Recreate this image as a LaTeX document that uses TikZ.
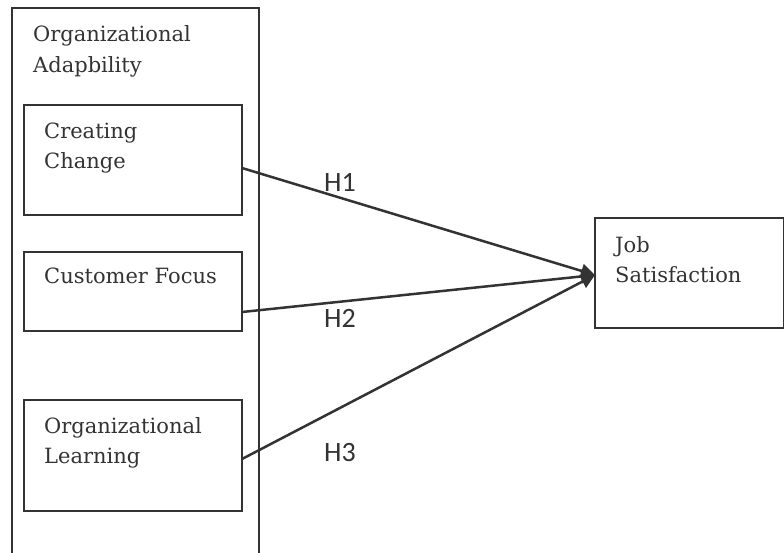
\documentclass[tikz,border=0pt]{standalone}
\usepackage{fontspec}
\setmainfont{DejaVu Serif}
\newfontfamily\hfont{Carlito}
\usetikzlibrary{arrows.meta}
\definecolor{ink}{HTML}{333333}
\begin{document}
\begin{tikzpicture}[x=1pt,y=-1pt,
  boxline/.style={draw=ink,line width=2.2pt},
  inbox/.style={boxline,rectangle,inner sep=0pt,anchor=north west},
  txt/.style={anchor=base west,inner sep=0pt,text=ink,font=\fontsize{21}{25}\selectfont},
  hyp/.style={anchor=center,inner sep=0pt,text=ink,font=\hfont\fontsize{28}{32}\selectfont},
  conn/.style={draw=ink,line width=2.5pt,-{Triangle[length=14pt,width=14pt]}}]
\path[use as bounding box,clip] (0,0) rectangle (784,552);
\fill[white] (0,0) rectangle (784,552);
% outer frame (bottom edge runs off the picture)
\draw[boxline] (12,570) -- (12,8) -- (259,8) -- (259,570);
\node[txt] (oa1) at (33,41) {Organizational};
\node[txt] (oa2) at (33,72) {Adapbility};
% inner boxes
\node[inbox,minimum width=218pt,minimum height=110pt] (b1) at (23,104) {};
\node[txt] (b1t1) at (44,138) {Creating};
\node[txt] (b1t2) at (44,168) {Change};
\node[inbox,minimum width=218pt,minimum height=79pt] (b2) at (23,251) {};
\node[txt] (b2t1) at (44,283) {Customer Focus};
\node[inbox,minimum width=218pt,minimum height=111pt] (b3) at (23,399) {};
\node[txt] (b3t1) at (44,433) {Organizational};
\node[txt] (b3t2) at (44,463) {Learning};
% target
\node[inbox,minimum width=189pt,minimum height=110pt] (js) at (594,217) {};
\node[txt] (jst1) at (615,252) {Job};
\node[txt] (jst2) at (615,282) {Satisfaction};
% connector ends
\coordinate (s1) at (242,168);
\coordinate (s2) at (242,312);
\coordinate (s3) at (242,459);
\coordinate (tip) at (595,275);
\draw[conn] (s1) -- (tip);
\draw[conn] (s2) -- (tip);
\draw[conn] (s3) -- (tip);
\node[hyp] (h1) at (340,182) {H1};
\node[hyp] (h2) at (340,318) {H2};
\node[hyp] (h3) at (340,453) {H3};
\end{tikzpicture}
\end{document}
